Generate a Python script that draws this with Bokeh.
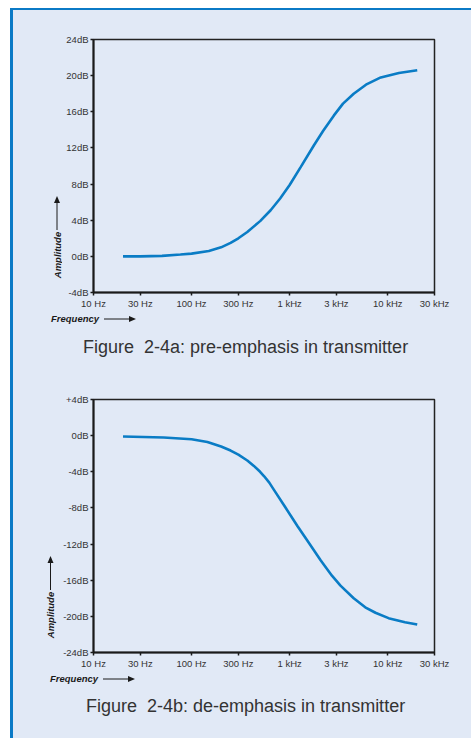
from bokeh.plotting import figure
from bokeh.models import Range1d, FixedTicker, Spacer, Div
from bokeh.layouts import column, row
from bokeh.embed import file_html
from bokeh.resources import INLINE

# ---- data ----
freq_a = [20, 30, 50, 77, 100, 150, 200, 250, 300, 370, 500, 640, 800, 1000, 1300, 1770, 2200, 2830,
          3500, 4500, 6000, 8500, 13000, 20000]
gain_a = [0.0, 0.0, 0.05, 0.2, 0.3, 0.6, 1.0, 1.5, 2.0, 2.7, 3.9, 5.1, 6.4, 7.9, 9.9, 12.3, 13.9, 15.6,
          16.9, 18.0, 19.0, 19.8, 20.3, 20.6]

freq_b = [20, 52, 100, 145, 200, 250, 300, 370, 432, 500, 550, 620, 692, 900, 1200, 1600, 2070, 2700,
          3300, 4500, 5900, 7500, 10200, 15000, 20000]
gain_b = [-0.1, -0.2, -0.4, -0.7, -1.2, -1.65, -2.1, -2.75, -3.35, -4.0, -4.5, -5.2, -6.0, -7.9, -10.0,
          -12.0, -13.8, -15.5, -16.6, -18.0, -19.0, -19.6, -20.2, -20.65, -20.9]

x_ticks = [10, 30, 100, 300, 1000, 3000, 10000, 30000]
x_labels = ["10 Hz", "30 Hz", "100 Hz", "300 Hz", "1 kHz", "3 kHz", "10 kHz", "30 kHz"]

y_ticks_a = [-4, 0, 4, 8, 12, 16, 20, 24]
y_labels_a = ["-4dB", "0dB", "4dB", "8dB", "12dB", "16dB", "20dB", "24dB"]
y_ticks_b = [-24, -20, -16, -12, -8, -4, 0, 4]
y_labels_b = ["-24dB", "-20dB", "-16dB", "-12dB", "-8dB", "-4dB", "0dB", "+4dB"]

caption_a = "Figure\u00a0\u00a02-4a: pre-emphasis in transmitter"
caption_b = "Figure\u00a0\u00a02-4b: de-emphasis in transmitter"
y_title = "Amplitude"
x_title = "Frequency"

BG = "#E1E9F6"
BLUE = "#0B7AC6"
LINE = "#0A7CC5"
TXT = "#333333"
INK = "#1a1a1a"
FONT = "Liberation Sans"


def make_chart(freq, gain, y_ticks, y_labels, y_lo, y_hi, width, left):
    p = figure(width=width, height=302, x_axis_type="log",
               x_range=Range1d(10, 30000), y_range=Range1d(y_lo, y_hi),
               output_backend="svg", toolbar_location=None,
               min_border_left=left, min_border_right=width - left - 341,
               min_border_top=29, min_border_bottom=20)
    p.background_fill_color = BG
    p.border_fill_color = BG
    p.outline_line_color = "#222222"
    p.outline_line_width = 1.5
    p.grid.visible = False

    p.xaxis.ticker = FixedTicker(ticks=x_ticks)
    p.xaxis.major_label_overrides = {t: l for t, l in zip(x_ticks, x_labels)}
    p.yaxis.ticker = FixedTicker(ticks=y_ticks)
    p.yaxis.major_label_overrides = {t: l for t, l in zip(y_ticks, y_labels)}
    for ax in (p.xaxis, p.yaxis):
        ax.axis_line_color = INK
        ax.axis_line_width = 2
        ax.major_tick_line_color = INK
        ax.major_tick_line_width = 1.5
        ax.major_tick_out = 3
        ax.major_tick_in = 0
        ax.minor_tick_line_color = None
        ax.major_label_text_font = FONT
        ax.major_label_text_font_size = "9.5px"
        ax.major_label_text_color = TXT
        ax.major_label_standoff = 2

    p.line(freq, gain, line_color=LINE, line_width=2.6)
    return p


def amp_div(width, cx):
    svg = (
        f'<svg xmlns="http://www.w3.org/2000/svg" width="{width}" height="302" style="display:block">'
        f'<text x="{cx}" y="245" transform="rotate(-90 {cx} 245)" text-anchor="middle" '
        f'dominant-baseline="central" font-family="{FONT}" font-size="9.5px" font-weight="bold" '
        f'font-style="italic" fill="{INK}">{y_title}</text>'
        f'<line x1="{cx}" y1="220" x2="{cx}" y2="192" stroke="{INK}" stroke-width="1"/>'
        f'<polygon points="{cx},186 {cx - 3},193 {cx + 3},193" fill="{INK}"/>'
        f'</svg>'
    )
    return Div(text=svg, width=width, height=302, margin=0,
               styles={"background-color": BG, "padding": "0", "line-height": "0"})


def bottom_div(height, fx, ax0, cap_x, cap_y, caption):
    svg = (
        f'<svg xmlns="http://www.w3.org/2000/svg" width="458" height="{height}" style="display:block">'
        f'<text x="{fx}" y="6.5" dominant-baseline="central" font-family="{FONT}" font-size="9.5px" '
        f'font-weight="bold" font-style="italic" fill="{INK}">{x_title}</text>'
        f'<line x1="{ax0}" y1="7" x2="{ax0 + 26}" y2="7" stroke="{INK}" stroke-width="1"/>'
        f'<polygon points="{ax0 + 32},7 {ax0 + 25},4 {ax0 + 25},10" fill="{INK}"/>'
        f'<text x="{cap_x}" y="{cap_y}" font-family="{FONT}" font-size="18px" fill="{TXT}" '
        f'xml:space="preserve">{caption}</text>'
        f'</svg>'
    )
    return Div(text=svg, width=458, height=height, margin=0,
               styles={"background-color": BG, "padding": "0", "line-height": "0"})


p1 = make_chart(freq_a, gain_a, y_ticks_a, y_labels_a, -4, 24, 409, 31)
p2 = make_chart(freq_b, gain_b, y_ticks_b, y_labels_b, -24, 4, 412, 34)

block_a = column(row(amp_div(49, 44), p1, spacing=0), bottom_div(58, 38, 91, 70, 41, caption_a), spacing=0)
block_b = column(row(amp_div(46, 37.5), p2, spacing=0), bottom_div(66, 37, 90, 73, 40, caption_b), spacing=0)

content = column(block_a, block_b, spacing=0, styles={"background-color": BG})

layout = row(
    Spacer(width=10, height=738),
    column(
        Spacer(width=461, height=8),
        Spacer(width=461, height=2, styles={"background-color": BLUE}),
        row(
            Spacer(width=3, height=728, styles={"background-color": BLUE}),
            content,
            spacing=0,
        ),
        spacing=0,
    ),
    spacing=0,
)

open("out.html", "w").write(file_html(layout, INLINE))
